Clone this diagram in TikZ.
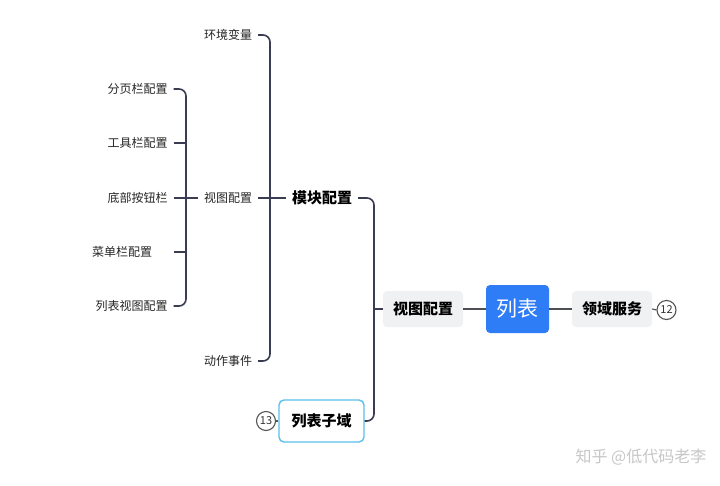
\documentclass[tikz,border=0pt]{standalone}
\usepackage{fontspec}
\newfontfamily\cjk{Noto Sans CJK SC}
\definecolor{mainblue}{HTML}{2E7CF6}
\definecolor{boxgrey}{HTML}{F0F1F3}
\definecolor{brline}{HTML}{3A3D52}
\definecolor{mainline}{HTML}{4E4E55}
\definecolor{skyline}{HTML}{5BC0EB}
\definecolor{markgrey}{HTML}{555555}
\tikzset{
  lbl/.style={font=\cjk\fontsize{12}{14}\selectfont, text=black!85, inner xsep=6pt, inner ysep=2pt},
  boldlbl/.style={font=\cjk\bfseries\fontsize{15}{18}\selectfont, text=black, inner xsep=6pt, inner ysep=2pt},
  greybox/.style={boldlbl, fill=boxgrey, rounded corners=4pt, minimum width=80pt, minimum height=36pt},
  br/.style={draw=brline, line width=1.6pt, rounded corners=7pt},
  mainlink/.style={draw=mainline, line width=2.6pt},
  numc/.style={circle, draw=markgrey, line width=1.1pt, minimum size=19pt, inner sep=0pt, font=\cjk\fontsize{11}{12}\selectfont, text=black!80},
}
\begin{document}
\begin{tikzpicture}[x=1pt,y=-1pt]
\useasboundingbox[fill=white] (0,0) rectangle (720,485);
% central
\node[fill=mainblue, rounded corners=4pt, minimum width=63pt, minimum height=48pt, text=white, font=\cjk\fontsize{21}{24}\selectfont] (lb) at (517.5,309) {列表};
\node[greybox] (ly) at (612,309) {领域服务};
\node[numc] (c12) at (666.5,310) {12};
\node[greybox] (vs) at (423,309) {视图配置};
\draw[mainlink] (lb) -- (vs);
\draw[mainlink] (lb) -- (ly);
\draw[draw=markgrey, line width=1.2pt] (ly.east) -- (c12.west);
% level 1
\node[boldlbl] (mk) at (322,198) {模块配置};
\node[boldlbl, draw=skyline, line width=1.4pt, fill=white, rounded corners=5pt, minimum width=85pt, minimum height=42pt] (zy) at (321.5,421) {列表子域};
\node[numc] (c13) at (266,421) {13};
\draw[draw=markgrey, line width=1.2pt] (c13.east) -- (zy.west);
\coordinate (v1) at (374,309);
\draw[br] (mk.east) -- (374,198) -- (374,421) -- (zy.east);
\draw[br] (vs.west) -- (v1);
% level 2
\node[lbl] (hj) at (228,35) {环境变量};
\node[lbl] (st) at (228,198) {视图配置};
\node[lbl] (dz) at (228,361) {动作事件};
\draw[br] (hj.east) -- (270,35) -- (270,361) -- (dz.east);
\draw[br] (st.east) -- (mk.west);
% level 3
\node[lbl] (fy) at (137.5,89) {分页栏配置};
\node[lbl] (gj) at (137.5,143) {工具栏配置};
\node[lbl] (db) at (137.5,198) {底部按钮栏};
\node[lbl] (cd) at (122,252) {菜单栏配置};
\node[lbl] (lbst) at (131.5,306) {列表视图配置};
\coordinate (cdend) at (174,252);
\coordinate (gjv) at (186,143);
\coordinate (cdv) at (186,252);
\draw[br] (fy.east) -- (186,89) -- (186,306) -- (lbst.east);
\draw[br] (gj.east) -- (gjv);
\draw[br] (cdend) -- (cdv);
\draw[br] (db.east) -- (st.west);
% watermark
\node[font=\cjk\fontsize{16}{20}\selectfont, text=black!22] (wm) at (641,457) {知乎 @低代码老李};
\end{tikzpicture}
\end{document}
